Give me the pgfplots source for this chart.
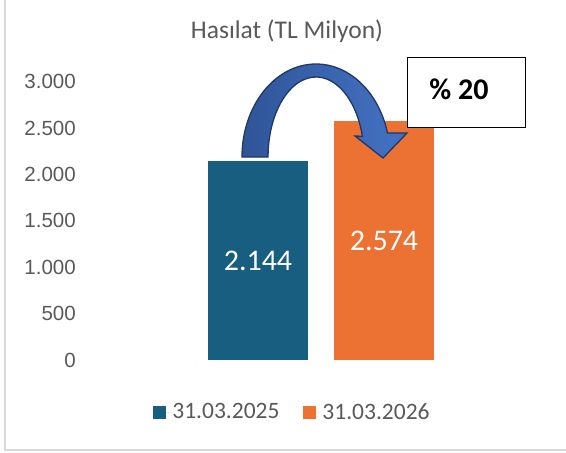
\documentclass[border=0pt]{standalone}
\usepackage{pgfplots}
\pgfplotsset{compat=1.18}
\usepackage{fontspec}
\setmainfont{Carlito}
\newfontfamily\tickfont{Liberation Sans}
\definecolor{barA}{HTML}{175E80}
\definecolor{barB}{HTML}{EB7233}
\definecolor{txtgray}{HTML}{595959}
\definecolor{arrowdark}{HTML}{2F5597}
\definecolor{arrowlight}{HTML}{4472C4}
\definecolor{arrowline}{HTML}{1F3864}
\definecolor{bordergray}{HTML}{D9D9D9}
\begin{document}
\begin{tikzpicture}
\useasboundingbox (0pt,0pt) rectangle (566pt,-453pt);
\begin{axis}[
  at={(100pt,-360pt)}, anchor=south west,
  scale only axis, width=442pt, height=278.4pt,
  xmin=100, xmax=542, ymin=0, ymax=3000,
  axis line style={draw=none},
  major tick length=0pt,
  xtick=\empty,
  ytick={0,500,1000,1500,2000,2500,3000},
  yticklabels={0,500,1.000,1.500,2.000,2.500,3.000},
  yticklabel style={font=\tickfont\fontsize{20.5}{20.5}\selectfont, text=txtgray, anchor=east, inner sep=0pt, xshift=-24pt},
  legend columns=2,
  legend style={at={(0.4355,-0.187)}, anchor=center, draw=none, fill=none,
    font=\fontsize{23.5}{23.5}\selectfont, text=txtgray,
    /tikz/every even column/.append style={column sep=22pt}},
  legend image code/.code={\fill[#1] (0pt,-6.5pt) rectangle (13pt,6.5pt); \path (0pt,0pt) -- (17pt,0pt);},
]
\addplot[ybar, bar width=100, bar shift=0pt, fill=barA, draw=none] coordinates {(258,2144)};
\addlegendentry{31.03.2025}
\addplot[ybar, bar width=100, bar shift=0pt, fill=barB, draw=none] coordinates {(384,2574)};
\addlegendentry{31.03.2026}
\node[text=white, font=\fontsize{30}{30}\selectfont] at (axis cs:258,1072) {2.144};
\node[text=white, font=\fontsize{30}{30}\selectfont] at (axis cs:384,1287) {2.574};
\end{axis}
% border
\draw[bordergray, line width=1.5pt] (5pt,0pt) -- (5pt,-450pt) -- (566pt,-450pt);
% title
\node[text=txtgray, font=\fontsize{25.5}{25.5}\selectfont] at (287pt,-31pt) {Hasılat (TL Milyon)};
% curved arrow
\draw[arrowline, line width=1.3pt, shading=axis, left color=arrowdark, right color=arrowlight, shading angle=90]
  (242pt,-157pt) arc[start angle=180, end angle=15, x radius=74pt, y radius=93pt]
  -- (407pt,-133pt) -- (383pt,-158pt) -- (355pt,-136pt)
  -- (362.4pt,-136.3pt) arc[start angle=15, end angle=180, x radius=48pt, y radius=80pt]
  -- cycle;
% percent box
\draw[black, line width=1pt, fill=white] (407pt,-57pt) rectangle (525pt,-127pt);
\node[font=\bfseries\fontsize{30}{30}\selectfont] at (459pt,-89pt) {\% 20};
\end{tikzpicture}
\end{document}
